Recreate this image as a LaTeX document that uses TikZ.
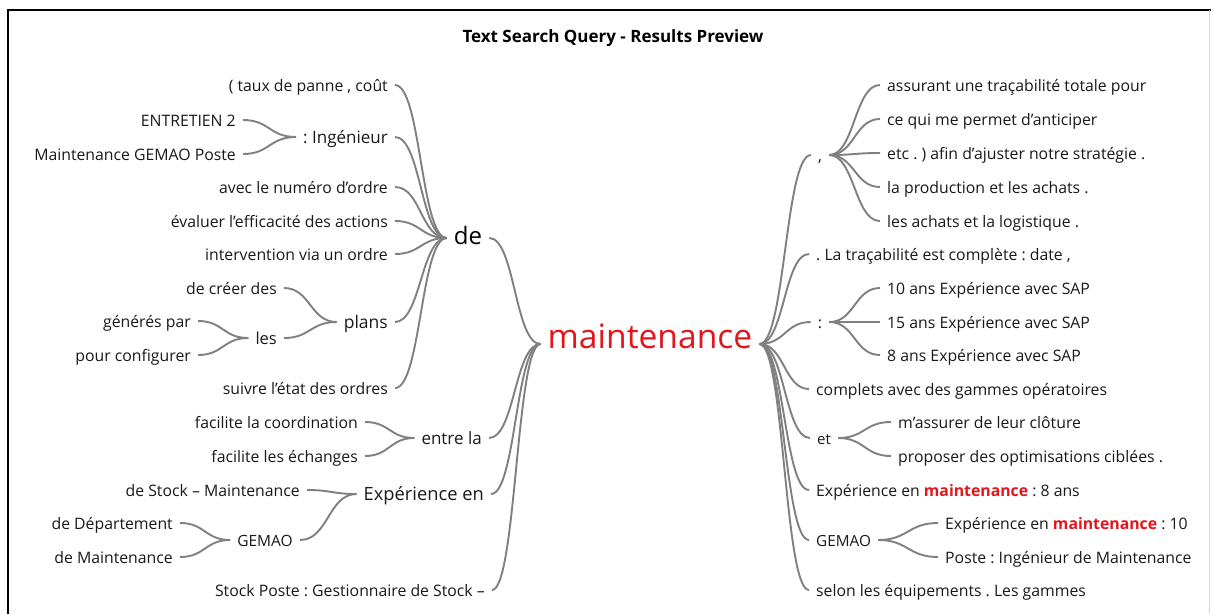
\documentclass[tikz,border=0pt]{standalone}
\usepackage{fontspec}
\setmainfont{Open Sans}
\usetikzlibrary{calc}
\definecolor{linkgray}{RGB}{128,128,128}
\definecolor{txt}{RGB}{25,25,25}
\definecolor{hl}{RGB}{226,22,28}
\tikzset{
  w/.style={inner xsep=7pt, inner ysep=0pt, text height=1.4em, text depth=0.2em, font=\fontsize{15.8}{18}\selectfont\frenchspacing, text=txt},
  L/.style={w, anchor=east},
  R/.style={w, anchor=west},
  fs/.style={font=\fontsize{#1}{#1}\selectfont\frenchspacing},
  link/.style={draw=linkgray, line width=1.9pt},
}
\newcommand{\lk}[2]{\path ($(#1.east)!0.5!(#2.west)$) coordinate (m);
  \draw[link] (#1.east) .. controls (m |- #1.east) and (m |- #2.west) .. (#2.west);}
\begin{document}
\begin{tikzpicture}[x=1pt,y=-1pt]
\useasboundingbox (0,0) rectangle (1211,614);
\fill[white] (0,0) rectangle (1211,614);
\draw[black, line width=1.2pt] (8,614) -- (8,10) -- (1211,10);
\draw[black!15, line width=1pt] (1209,10) -- (1209,614);
\node[font=\fontsize{17}{19}\selectfont\bfseries, text=black] (title) at (613,38) {Text Search Query - Results Preview};
% centre
\node[w, fs=33.6, text height=1.1em, text depth=0.2em, text=hl] (mnt) at (650,344) {maintenance};
% left side
\node[w, fs=24, text height=1.35em, text depth=0.1em, text=black] (de) at (468,238) {de};
\node[L] (tc) at (395,85) {( taux de panne , coût};
\node[L, fs=17] (ing) at (395,137) {: Ingénieur};
\node[L] (ent2) at (243,120) {ENTRETIEN 2};
\node[L] (mgp) at (243,154) {Maintenance GEMAO Poste};
\node[L] (avec) at (395,187) {avec le numéro d'ordre};
\node[L] (eval) at (395,221) {évaluer l'efficacité des actions};
\node[L] (interv) at (395,254) {intervention via un ordre};
\node[L, fs=17.5] (plans) at (395,322) {plans};
\node[L] (creer) at (284,288) {de créer des};
\node[L, fs=16.5] (les) at (284,338) {les};
\node[L] (gen) at (198,321) {générés par};
\node[L] (pour) at (198,355) {pour configurer};
\node[L] (suivre) at (395,388) {suivre l'état des ordres};
\node[L, fs=17] (entre) at (489,438) {entre la};
\node[L] (fac1) at (365,422) {facilite la coordination};
\node[L] (fac2) at (365,456) {facilite les échanges};
\node[L, fs=18.3] (exp) at (491,494) {Expérience en};
\node[L] (dsm) at (307,490) {de Stock – Maintenance};
\node[L, fs=15.5] (gem) at (300,540) {GEMAO};
\node[L] (ddep) at (180,523) {de Département};
\node[L] (dmain) at (180,557) {de Maintenance};
\node[L] (stock) at (492,590) {Stock Poste : Gestionnaire de Stock –};
% right side
\node[w] (comma) at (820,155) {,};
\node[R] (a1) at (880,85) {assurant une traçabilité totale pour};
\node[R] (a2) at (880,119) {ce qui me permet d'anticiper};
\node[R] (a3) at (880,153) {etc . ) afin d'ajuster notre stratégie .};
\node[R] (a4) at (880,187) {la production et les achats .};
\node[R] (a5) at (880,221) {les achats et la logistique .};
\node[R] (trac) at (809,254) {. La traçabilité est complète : date ,};
\node[w] (colon) at (820,322) {:};
\node[R] (s10) at (880,288) {10 ans Expérience avec SAP};
\node[R] (s15) at (880,322) {15 ans Expérience avec SAP};
\node[R] (s8) at (880,355) {8 ans Expérience avec SAP};
\node[R] (compl) at (809,389) {complets avec des gammes opératoires};
\node[R, fs=15] (et) at (810,438) {et};
\node[R] (m1) at (891,422) {m’assurer de leur clôture};
\node[R] (m2) at (891,456) {proposer des optimisations ciblées .};
\node[R] (exp8) at (809,490) {Expérience en \textbf{\color{hl}maintenance} : 8 ans};
\node[R, fs=15.3] (gemR) at (809,540) {GEMAO};
\node[R] (e10) at (938,523) {Expérience en \textbf{\color{hl}maintenance} : 10};
\node[R] (poste) at (938,557) {Poste : Ingénieur de Maintenance};
\node[R] (selon) at (809,590) {selon les équipements . Les gammes};
% links left
\lk{de}{mnt}\lk{entre}{mnt}\lk{exp}{mnt}\lk{stock}{mnt}
\lk{tc}{de}\lk{ing}{de}\lk{avec}{de}\lk{eval}{de}\lk{interv}{de}\lk{plans}{de}\lk{suivre}{de}
\lk{ent2}{ing}\lk{mgp}{ing}
\lk{creer}{plans}\lk{les}{plans}
\lk{gen}{les}\lk{pour}{les}
\lk{fac1}{entre}\lk{fac2}{entre}
\lk{dsm}{exp}\lk{gem}{exp}
\lk{ddep}{gem}\lk{dmain}{gem}
% links right
\lk{mnt}{comma}\lk{mnt}{trac}\lk{mnt}{colon}\lk{mnt}{compl}\lk{mnt}{et}\lk{mnt}{exp8}\lk{mnt}{gemR}\lk{mnt}{selon}
\lk{comma}{a1}\lk{comma}{a2}\lk{comma}{a3}\lk{comma}{a4}\lk{comma}{a5}
\lk{colon}{s10}\lk{colon}{s15}\lk{colon}{s8}
\lk{et}{m1}\lk{et}{m2}
\lk{gemR}{e10}\lk{gemR}{poste}
\end{tikzpicture}
\end{document}
